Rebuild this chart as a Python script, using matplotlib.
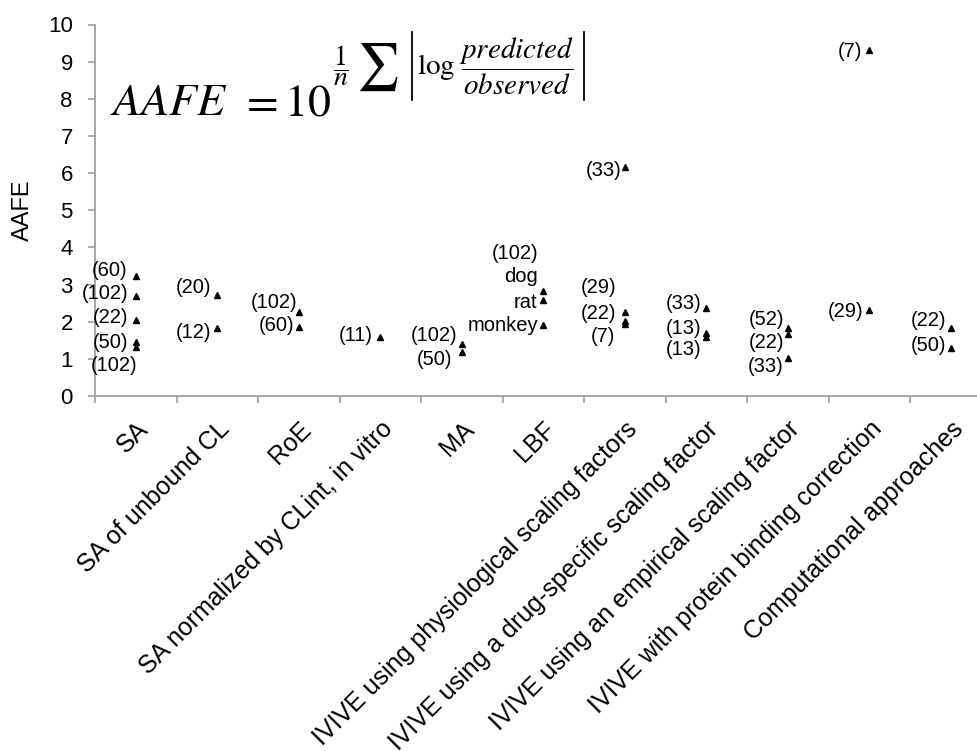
import matplotlib
matplotlib.use('Agg')
from matplotlib import pyplot as plt
from matplotlib.ticker import FixedLocator
from matplotlib.lines import Line2D

plt.rcParams['font.family'] = ['Liberation Sans', 'DejaVu Sans']
plt.rcParams['mathtext.fontset'] = 'stix'

categories = ['SA', 'SA of unbound CL', 'RoE', 'SA normalized by CLint, in vitro', 'MA', 'LBF',
              'IVIVE using physiological scaling factors',
              'IVIVE using a drug-specific scaling factor',
              'IVIVE using an empirical scaling factor',
              'IVIVE with protein binding correction',
              'Computational approaches']

# one entry per reported AAFE value
point_cat = [0, 0, 0, 0, 0, 1, 1, 2, 2, 3, 4, 4, 5, 5, 5,
             6, 6, 6, 6, 7, 7, 7, 8, 8, 8, 9, 9, 10, 10]
point_aafe = [3.23, 2.70, 2.05, 1.46, 1.33, 2.73, 1.83, 2.27, 1.87, 1.60, 1.40, 1.18, 2.83, 2.59, 1.90,
              6.17, 2.27, 2.02, 1.94, 2.36, 1.69, 1.58, 1.82, 1.67, 1.02, 9.31, 2.32, 1.82, 1.30]
point_label = ['(60)', '(102)', '(22)', '(50)', '(102)', '(20)', '(12)', '(102)', '(60)', '(11)',
               '(102)', '(50)', '(102)\ndog', 'rat', 'monkey',
               '(33)', '(29)', '(22)', '(7)', '(33)', '(13)', '(13)', '(52)', '(22)', '(33)',
               '(7)', '(29)', '(22)', '(50)']

# where each data label sits (label centre height, shift in px from the marker)
label_y = [3.39, 2.77, 2.10, 1.45, 0.83, 2.93, 1.70, 2.53, 1.91, 1.64, 1.64, 0.97, 3.52, 2.53, 1.89,
           6.08, 2.91, 2.23, 1.60, 2.49, 1.82, 1.24, 2.05, 1.43, 0.79, 9.27, 2.27, 2.03, 1.37]
label_dx = [-8, -7, -7, -8, 2, -6, -6, -1, -4, -7, -4, -9, -5, -6, -5,
            -3, -8, -8, -10, -5, -5, -5, -4, -4, -4, -7, -6, -5, -5]

W, H = 977, 751
fig = plt.figure(figsize=(W / 100, H / 100), dpi=100)
ax = fig.add_axes([95 / W, (H - 396) / H, 896.5 / W, (396 - 24.5) / H])

xs = [c + 0.5 for c in point_cat]
ax.plot(xs, point_aafe, linestyle='none', marker='^', color='black', markersize=5)

for x, lab, ly, dx in zip(xs, point_label, label_y, label_dx):
    ax.annotate(lab, xy=(x, ly), xytext=(dx * 0.72, 0), textcoords='offset points',
                ha='right', va='center', ma='right', fontsize=14.5, linespacing=1.3)

ax.set_xlim(0, len(categories))
ax.set_ylim(0, 10)
ax.set_yticks(range(0, 11))
ax.xaxis.set_major_locator(FixedLocator(range(0, len(categories) + 1)))
ax.xaxis.set_major_formatter(plt.NullFormatter())
ax.set_xticks([i + 0.5 for i in range(len(categories))], minor=True)
ax.set_xticklabels(categories, minor=True, rotation=45, ha='right', rotation_mode='anchor', fontsize=18)

grey = '#a0a0a0'
for s in ['top', 'right']:
    ax.spines[s].set_visible(False)
for s in ['left', 'bottom']:
    ax.spines[s].set_color(grey)
    ax.spines[s].set_linewidth(1.3)
ax.tick_params(axis='x', which='major', length=5, color=grey, width=1.2)
ax.tick_params(axis='x', which='minor', length=0, pad=15)
ax.tick_params(axis='y', length=5, color=grey, width=1.2, labelsize=16, pad=11)

ax.set_ylabel('AAFE', fontsize=17)
ax.yaxis.set_label_coords(-(95 - 34) / 896.5, 0.5)

# formula drawn in pieces to keep the big summation sign and thin bars
def px(x, y):
    return x / W, (H - y) / H

fig.text(*px(110, 115), r'$AAFE$', fontsize=33, ha='left', va='baseline')
fig.text(*px(240, 115), r'$=10$', fontsize=33, ha='left', va='baseline')
fig.text(*px(333, 66), r'$\dfrac{1}{n}$', fontsize=20, ha='left', va='center')
fig.text(*px(356, 67), r'$\sum$', fontsize=34, ha='left', va='center')
fig.text(*px(417, 66), r'$\log\,\dfrac{predicted}{observed}$', fontsize=21, ha='left', va='center')
for bx in (412, 584):
    fig.add_artist(Line2D([bx / W, bx / W], [(H - 32) / H, (H - 100) / H], color='black', lw=1.3))

fig.savefig('out.png', dpi=100)
